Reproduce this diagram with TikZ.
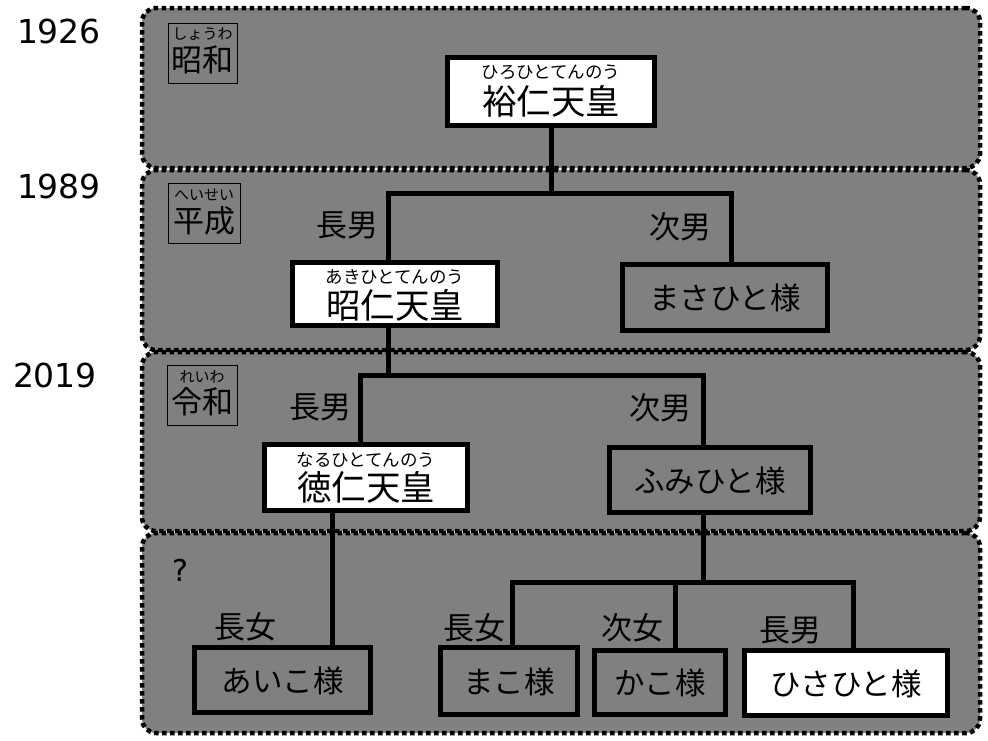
\documentclass[tikz,border=0pt]{standalone}
\usepackage{fontspec}
\newfontfamily\jp{Noto Sans CJK JP}
\newfontfamily\numf{DejaVu Sans}
\definecolor{bandgray}{HTML}{808080}
\tikzset{
  band/.style={draw=black, fill=bandgray, line width=4.5pt, dash pattern=on 4.5pt off 3.5pt, rounded corners=14pt, inner sep=0pt},
  pbox/.style={draw=black, line width=5.5pt, inner sep=0pt},
  wbox/.style={pbox, fill=white},
  erabox/.style={draw=black, line width=0.8pt, inner sep=0pt},
  link/.style={draw=black, line width=5pt, line join=miter},
  rel/.style={font=\jp\fontsize{31}{33}\selectfont, inner sep=0pt},
  nm/.style={font=\jp\fontsize{30.5}{32}\selectfont, inner sep=0pt},
  kan/.style={font=\jp\fontsize{34.5}{36}\selectfont, inner sep=0pt},
  furi/.style={font=\jp\fontsize{17.5}{19}\selectfont, inner sep=0pt},
  erak/.style={font=\jp\fontsize{31}{33}\selectfont, inner sep=0pt},
  eraf/.style={font=\jp\fontsize{15}{16}\selectfont, inner sep=0pt},
  year/.style={font=\numf\fontsize{33}{35}\selectfont, inner sep=0pt}
}
\begin{document}
\begin{tikzpicture}[x=1pt,y=-1pt]
\useasboundingbox (0,0) rectangle (988,740);
% era bands
\node[band, minimum width=838, minimum height=160] (band1) at (561,88) {};
\node[band, minimum width=838, minimum height=180] (band2) at (561,260) {};
\node[band, minimum width=838, minimum height=179] (band3) at (561,441.5) {};
\node[band, minimum width=838, minimum height=200] (band4) at (561,633) {};
% years
\node[year] (y1926) at (59,31) {1926};
\node[year] (y1989) at (59,186) {1989};
\node[year] (y2019) at (55,375) {2019};
% era labels
\node[erabox, minimum width=69, minimum height=60] (eraS) at (202.5,53) {};
\node[eraf] (eraSf) at (202.5,34) {しょうわ};
\node[erak] (eraSk) at (202.5,60) {昭和};
\node[erabox, minimum width=72, minimum height=60] (eraH) at (204,213) {};
\node[eraf] (eraHf) at (204,195) {へいせい};
\node[erak] (eraHk) at (204,221) {平成};
\node[erabox, minimum width=70, minimum height=60] (eraR) at (202,395) {};
\node[eraf] (eraRf) at (202,377) {れいわ};
\node[erak] (eraRk) at (202,402) {令和};
\node[font=\numf\fontsize{30}{32}\selectfont, inner sep=0pt] (q) at (180,570) {?};
% connectors
\coordinate (j1L) at (388,193);
\coordinate (j1R) at (731,193);
\coordinate (j2S) at (388,375);
\coordinate (j2L) at (360,375);
\coordinate (j2R) at (703,375);
\coordinate (n1) at (332,600);
\coordinate (j3M) at (703,582);
\coordinate (j3L) at (512,582);
\coordinate (j3K) at (675,582);
\coordinate (j3R) at (853,582);
% people boxes
\node[wbox, minimum width=207, minimum height=68] (hirohito) at (551,91.5) {};
\node[furi] (hirohitoF) at (551,72) {ひろひとてんのう};
\node[kan] (hirohitoK) at (551,101) {裕仁天皇};
\node[wbox, minimum width=205, minimum height=63] (akihito) at (395,294) {};
\node[furi] (akihitoF) at (395,277) {あきひとてんのう};
\node[kan] (akihitoK) at (395,305) {昭仁天皇};
\node[pbox, minimum width=205, minimum height=66] (masahito) at (725,297.5) {};
\node[nm] (masahitoT) at (725,298) {まさひと様};
\node[wbox, minimum width=203, minimum height=66] (naruhito) at (366,477.5) {};
\node[furi] (naruhitoF) at (366,460) {なるひとてんのう};
\node[kan] (naruhitoK) at (366,487) {徳仁天皇};
\node[pbox, minimum width=201, minimum height=65] (fumihito) at (710,480) {};
\node[nm] (fumihitoT) at (710,481) {ふみひと様};
\node[pbox, minimum width=176, minimum height=65] (aiko) at (282.5,680) {};
\node[nm] (aikoT) at (282.5,681) {あいこ様};
\node[pbox, minimum width=137, minimum height=67] (mako) at (509,681) {};
\node[nm] (makoT) at (509,682) {まこ様};
\node[pbox, minimum width=131, minimum height=64] (kako) at (660,682.5) {};
\node[nm] (kakoT) at (660,683) {かこ様};
\node[wbox, minimum width=203, minimum height=65] (hisahito) at (846,683) {};
\node[nm] (hisahitoT) at (846,684) {ひさひと様};
% lines
\draw[link] (hirohito.south) -- (hirohito.south |- j1L);
\draw[link] (j1L |- akihito.north) -- (j1L) -- (j1R) -- (j1R |- masahito.north);
\draw[link] (j2S |- akihito.south) -- (j2S);
\draw[link] (j2L |- naruhito.north) -- (j2L) -- (j2R) -- (j2R |- fumihito.north);
\draw[link] (n1 |- naruhito.south) -- (n1 |- aiko.north);
\draw[link] (j3M |- fumihito.south) -- (j3M);
\draw[link] (j3L |- mako.north) -- (j3L) -- (j3R) -- (j3R |- hisahito.north);
\draw[link] (j3K) -- (j3K |- kako.north);
% relation labels
\node[rel] (r1) at (347,225) {長男};
\node[rel] (r2) at (680,227) {次男};
\node[rel] (r3) at (320,407) {長男};
\node[rel] (r4) at (660,408) {次男};
\node[rel] (r5) at (245,627) {長女};
\node[rel] (r6) at (474,628) {長女};
\node[rel] (r7) at (632,628) {次女};
\node[rel] (r8) at (790,630) {長男};
\end{tikzpicture}
\end{document}
